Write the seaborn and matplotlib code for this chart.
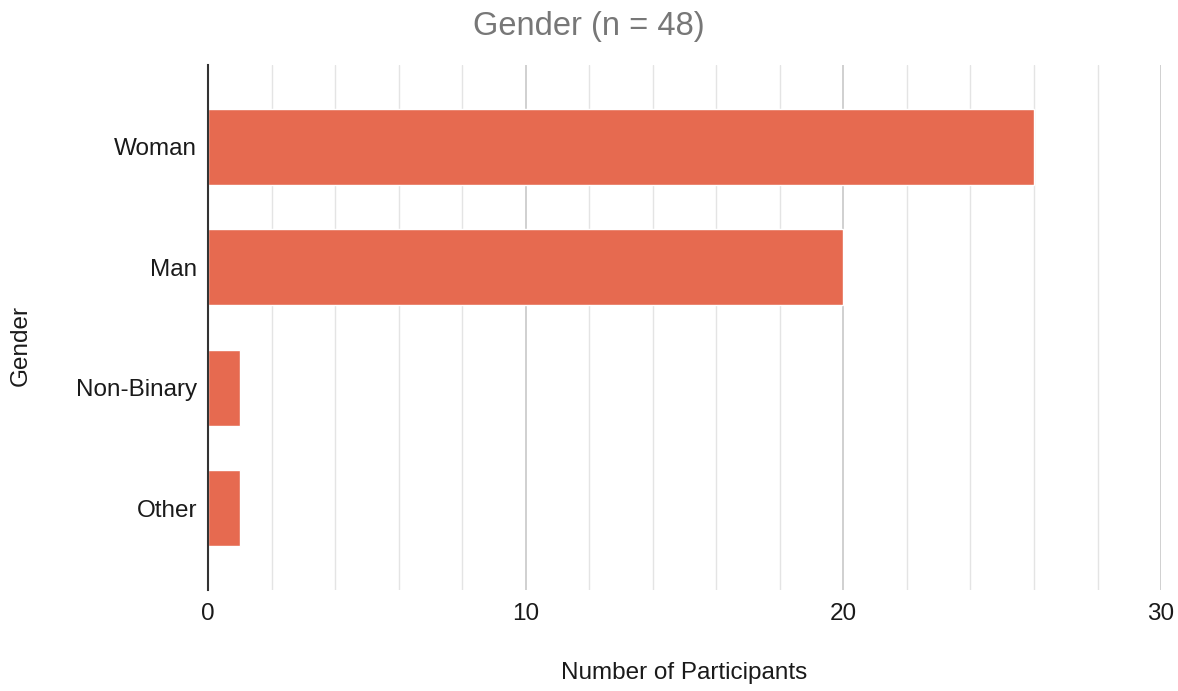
import matplotlib
matplotlib.use("Agg")
import matplotlib.pyplot as plt
import pandas as pd
import seaborn as sns
from matplotlib.ticker import MultipleLocator

categories = ["Woman", "Man", "Non-Binary", "Other"]
counts = [26, 20, 1, 1]

BAR_COLOR = "#E66A50"

df = pd.DataFrame({"gender": categories, "participants": counts})

sns.set_theme(style="white")
plt.rcParams["font.family"] = ["Liberation Sans", "DejaVu Sans"]

fig = plt.figure(figsize=(11.78, 6.91), dpi=100)
ax = fig.add_axes([0.1766, 0.146, 0.809, 0.760])

sns.barplot(data=df, x="participants", y="gender", order=categories,
            color=BAR_COLOR, saturation=1, width=0.63, ax=ax, zorder=3)

ax.set_xlim(0, 30)
ax.set_ylim(3.68, -0.68)
ax.xaxis.set_major_locator(MultipleLocator(10))
ax.xaxis.set_minor_locator(MultipleLocator(2))
ax.grid(axis="x", which="minor", color="#e4e4e4", linewidth=1.0, zorder=0)
ax.grid(axis="x", which="major", color="#c8c8c8", linewidth=1.2, zorder=0)
ax.grid(axis="y", visible=False)

for side in ["top", "right", "bottom"]:
    ax.spines[side].set_visible(False)
ax.spines["left"].set_color("#333333")
ax.spines["left"].set_linewidth(1.5)
ax.spines["left"].set_zorder(5)

ax.tick_params(axis="both", which="both", length=0, labelsize=17.5, colors="#1a1a1a")
ax.tick_params(axis="x", pad=9)
ax.tick_params(axis="y", pad=8)

ax.set_xlabel("Number of Participants", fontsize=17.5, color="#1a1a1a")
ax.set_ylabel("Gender", fontsize=17.5, color="#1a1a1a")
ax.xaxis.set_label_coords(0.5, -0.137)
ax.yaxis.set_label_coords(-0.185, 0.465)

fig.text(0.5, 0.962, "Gender (n = 48)", ha="center", va="center",
         fontsize=23.5, color="#777777")

fig.savefig("out.png", dpi=100)
